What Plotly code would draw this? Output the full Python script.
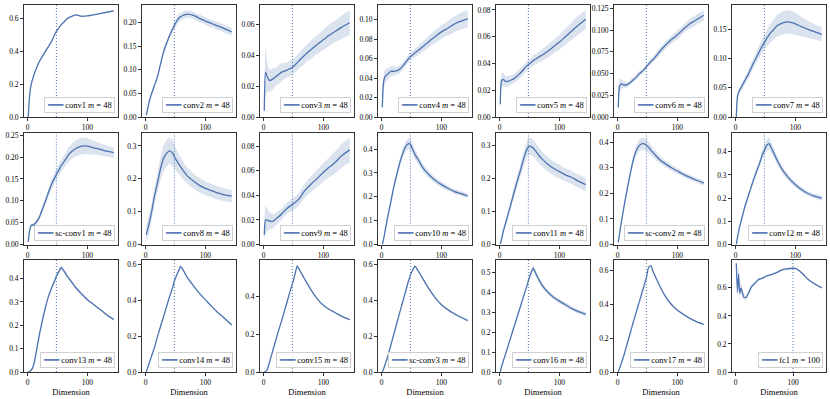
import plotly.graph_objects as go
from plotly.subplots import make_subplots

# dimensions sampled on the x axis
conv_dims = [1, 3, 6, 10, 15, 20, 25, 30, 35, 40, 45, 48, 52, 56, 58, 62, 66, 70, 80, 90, 100, 110, 120, 130, 144]
fc1_dims = [1, 3, 5, 7, 9, 11, 14, 18, 22, 28, 35, 40, 47, 54, 62, 72, 80, 87, 95, 100, 105, 110, 118, 125, 135, 150]

# mean and spread per layer
conv1_mean = [0.0, 0.12, 0.2, 0.25, 0.3, 0.34, 0.37, 0.4, 0.43, 0.46, 0.5, 0.52, 0.54, 0.56, 0.568, 0.582, 0.597, 0.605, 0.62, 0.612, 0.614, 0.62, 0.628, 0.635, 0.645]
conv1_std = [0.002, 0.01, 0.012, 0.01, 0.008, 0.006, 0.005, 0.004, 0.004, 0.003, 0.003, 0.003, 0.003, 0.003, 0.003, 0.003, 0.003, 0.003, 0.003, 0.003, 0.003, 0.003, 0.003, 0.003, 0.003]
conv2_mean = [0.004, 0.015, 0.033, 0.05, 0.068, 0.086, 0.113, 0.138, 0.156, 0.172, 0.186, 0.194, 0.203, 0.21, 0.212, 0.215, 0.217, 0.218, 0.215, 0.209, 0.203, 0.198, 0.193, 0.188, 0.18]
conv2_std = [0.001, 0.002, 0.003, 0.004, 0.005, 0.005, 0.005, 0.006, 0.006, 0.006, 0.007, 0.007, 0.008, 0.008, 0.008, 0.008, 0.008, 0.008, 0.008, 0.008, 0.008, 0.008, 0.008, 0.008, 0.008]
conv3_mean = [0.004, 0.029, 0.026, 0.0235, 0.0245, 0.026, 0.0275, 0.029, 0.0297, 0.0305, 0.0315, 0.032, 0.0335, 0.035, 0.0358, 0.0375, 0.039, 0.0405, 0.0438, 0.047, 0.05, 0.053, 0.0555, 0.058, 0.061]
conv3_std = [0.004, 0.016, 0.01, 0.007, 0.007, 0.006, 0.006, 0.006, 0.005, 0.005, 0.005, 0.005, 0.005, 0.005, 0.005, 0.005, 0.0055, 0.0055, 0.006, 0.006, 0.0065, 0.007, 0.007, 0.0075, 0.008]
conv4_mean = [0.01, 0.035, 0.042, 0.044, 0.047, 0.047, 0.0475, 0.049, 0.052, 0.056, 0.06, 0.062, 0.064, 0.066, 0.067, 0.069, 0.071, 0.073, 0.078, 0.083, 0.0875, 0.091, 0.095, 0.098, 0.101]
conv4_std = [0.003, 0.008, 0.007, 0.006, 0.005, 0.005, 0.004, 0.004, 0.004, 0.004, 0.004, 0.004, 0.004, 0.0045, 0.0045, 0.005, 0.005, 0.0055, 0.006, 0.0065, 0.007, 0.0075, 0.008, 0.0085, 0.009]
conv5_mean = [0.0095, 0.027, 0.028, 0.0265, 0.0268, 0.0278, 0.029, 0.031, 0.033, 0.0355, 0.038, 0.039, 0.0405, 0.042, 0.0427, 0.0437, 0.045, 0.046, 0.049, 0.0525, 0.056, 0.06, 0.064, 0.068, 0.073]
conv5_std = [0.003, 0.006, 0.005, 0.004, 0.004, 0.0035, 0.0035, 0.0035, 0.0035, 0.0035, 0.0035, 0.0035, 0.0035, 0.004, 0.004, 0.004, 0.004, 0.0045, 0.005, 0.005, 0.0055, 0.006, 0.0065, 0.007, 0.007]
conv6_mean = [0.011, 0.035, 0.038, 0.037, 0.037, 0.039, 0.042, 0.045, 0.049, 0.052, 0.055, 0.058, 0.061, 0.064, 0.0655, 0.068, 0.0715, 0.075, 0.0825, 0.089, 0.0945, 0.101, 0.107, 0.111, 0.117]
conv6_std = [0.004, 0.008, 0.006, 0.004, 0.003, 0.003, 0.003, 0.003, 0.003, 0.003, 0.003, 0.003, 0.003, 0.003, 0.0035, 0.0035, 0.004, 0.004, 0.004, 0.0045, 0.005, 0.005, 0.0055, 0.006, 0.006]
conv7_mean = [0.0, 0.035, 0.045, 0.052, 0.062, 0.071, 0.082, 0.093, 0.103, 0.113, 0.123, 0.128, 0.135, 0.141, 0.144, 0.148, 0.153, 0.157, 0.162, 0.163, 0.16, 0.155, 0.151, 0.147, 0.142]
conv7_std = [0.002, 0.006, 0.006, 0.006, 0.006, 0.007, 0.008, 0.009, 0.01, 0.011, 0.012, 0.013, 0.014, 0.016, 0.016, 0.017, 0.018, 0.019, 0.02, 0.02, 0.019, 0.017, 0.015, 0.013, 0.012]
scconv1_mean = [0.006, 0.03, 0.044, 0.045, 0.052, 0.064, 0.082, 0.1, 0.12, 0.138, 0.152, 0.16, 0.17, 0.18, 0.184, 0.192, 0.2, 0.208, 0.219, 0.225, 0.225, 0.221, 0.218, 0.214, 0.21]
scconv1_std = [0.003, 0.004, 0.004, 0.004, 0.005, 0.006, 0.008, 0.009, 0.01, 0.011, 0.012, 0.012, 0.013, 0.014, 0.014, 0.015, 0.016, 0.017, 0.018, 0.019, 0.018, 0.016, 0.014, 0.013, 0.012]
conv8_mean = [0.03, 0.045, 0.065, 0.1, 0.15, 0.19, 0.232, 0.262, 0.277, 0.285, 0.278, 0.267, 0.255, 0.243, 0.238, 0.227, 0.217, 0.208, 0.193, 0.18, 0.171, 0.164, 0.157, 0.152, 0.147]
conv8_std = [0.02, 0.03, 0.03, 0.025, 0.025, 0.03, 0.035, 0.04, 0.04, 0.04, 0.04, 0.035, 0.033, 0.03, 0.029, 0.028, 0.026, 0.025, 0.023, 0.022, 0.021, 0.02, 0.02, 0.02, 0.019]
conv9_mean = [0.008, 0.02, 0.0198, 0.019, 0.0188, 0.0205, 0.0225, 0.0248, 0.0275, 0.0298, 0.0315, 0.0326, 0.034, 0.0355, 0.0365, 0.039, 0.042, 0.0445, 0.0495, 0.054, 0.0588, 0.063, 0.067, 0.072, 0.077]
conv9_std = [0.004, 0.012, 0.009, 0.007, 0.006, 0.005, 0.005, 0.0045, 0.0045, 0.0045, 0.0045, 0.005, 0.005, 0.005, 0.005, 0.0055, 0.0055, 0.006, 0.0065, 0.007, 0.0075, 0.008, 0.009, 0.0095, 0.01]
conv10_mean = [0.0, 0.02, 0.06, 0.115, 0.175, 0.238, 0.29, 0.34, 0.38, 0.41, 0.423, 0.42, 0.398, 0.376, 0.367, 0.352, 0.334, 0.318, 0.29, 0.268, 0.251, 0.237, 0.224, 0.215, 0.204]
conv10_std = [0.003, 0.008, 0.01, 0.012, 0.014, 0.015, 0.016, 0.018, 0.02, 0.022, 0.024, 0.024, 0.022, 0.02, 0.02, 0.018, 0.017, 0.016, 0.014, 0.013, 0.012, 0.011, 0.01, 0.01, 0.01]
conv11_mean = [0.002, 0.015, 0.04, 0.065, 0.097, 0.13, 0.163, 0.195, 0.225, 0.258, 0.285, 0.295, 0.296, 0.291, 0.287, 0.278, 0.268, 0.26, 0.243, 0.23, 0.22, 0.21, 0.203, 0.193, 0.181]
conv11_std = [0.002, 0.005, 0.008, 0.01, 0.012, 0.014, 0.016, 0.018, 0.02, 0.022, 0.024, 0.025, 0.026, 0.026, 0.026, 0.025, 0.024, 0.023, 0.022, 0.021, 0.021, 0.02, 0.02, 0.02, 0.02]
scconv2_mean = [0.008, 0.04, 0.085, 0.14, 0.205, 0.265, 0.32, 0.36, 0.383, 0.393, 0.393, 0.388, 0.379, 0.367, 0.362, 0.352, 0.342, 0.332, 0.315, 0.3, 0.287, 0.274, 0.263, 0.253, 0.24]
scconv2_std = [0.003, 0.006, 0.008, 0.01, 0.012, 0.014, 0.017, 0.02, 0.022, 0.024, 0.024, 0.023, 0.021, 0.019, 0.018, 0.017, 0.016, 0.015, 0.013, 0.012, 0.011, 0.01, 0.01, 0.01, 0.01]
conv12_mean = [0.0, 0.03, 0.07, 0.11, 0.16, 0.2, 0.24, 0.28, 0.316, 0.35, 0.39, 0.405, 0.428, 0.435, 0.425, 0.405, 0.382, 0.36, 0.315, 0.283, 0.258, 0.237, 0.221, 0.21, 0.2]
conv12_std = [0.002, 0.005, 0.007, 0.008, 0.01, 0.011, 0.012, 0.013, 0.015, 0.017, 0.02, 0.022, 0.025, 0.025, 0.024, 0.021, 0.019, 0.018, 0.015, 0.013, 0.012, 0.011, 0.01, 0.01, 0.01]
conv13_mean = [0.0, 0.003, 0.008, 0.03, 0.096, 0.165, 0.225, 0.28, 0.325, 0.36, 0.39, 0.41, 0.43, 0.447, 0.442, 0.428, 0.411, 0.398, 0.363, 0.335, 0.31, 0.29, 0.27, 0.25, 0.225]
conv13_std = [0.001, 0.002, 0.003, 0.004, 0.005, 0.005, 0.005, 0.006, 0.006, 0.007, 0.008, 0.009, 0.01, 0.01, 0.01, 0.009, 0.008, 0.007, 0.006, 0.005, 0.005, 0.004, 0.004, 0.004, 0.004]
conv14_mean = [0.0, 0.02, 0.05, 0.09, 0.14, 0.2, 0.255, 0.31, 0.365, 0.42, 0.47, 0.505, 0.54, 0.57, 0.588, 0.572, 0.548, 0.524, 0.48, 0.438, 0.402, 0.367, 0.333, 0.305, 0.262]
conv14_std = [0.001, 0.002, 0.003, 0.004, 0.004, 0.004, 0.004, 0.004, 0.005, 0.005, 0.005, 0.006, 0.006, 0.006, 0.006, 0.006, 0.005, 0.005, 0.005, 0.004, 0.004, 0.004, 0.004, 0.004, 0.004]
conv15_mean = [0.0, 0.002, 0.012, 0.055, 0.11, 0.165, 0.22, 0.27, 0.325, 0.38, 0.435, 0.465, 0.51, 0.56, 0.55, 0.528, 0.505, 0.482, 0.43, 0.385, 0.352, 0.33, 0.313, 0.295, 0.276]
conv15_std = [0.001, 0.002, 0.002, 0.003, 0.003, 0.003, 0.003, 0.003, 0.003, 0.003, 0.003, 0.003, 0.003, 0.003, 0.003, 0.003, 0.003, 0.003, 0.003, 0.003, 0.003, 0.003, 0.003, 0.003, 0.003]
scconv3_mean = [0.0, 0.015, 0.045, 0.085, 0.146, 0.207, 0.268, 0.33, 0.39, 0.45, 0.51, 0.54, 0.57, 0.592, 0.582, 0.56, 0.538, 0.515, 0.46, 0.413, 0.376, 0.35, 0.328, 0.31, 0.287]
scconv3_std = [0.001, 0.002, 0.003, 0.003, 0.004, 0.004, 0.004, 0.004, 0.004, 0.004, 0.004, 0.004, 0.004, 0.004, 0.004, 0.004, 0.004, 0.004, 0.005, 0.005, 0.005, 0.005, 0.006, 0.006, 0.006]
conv16_mean = [0.0, 0.025, 0.055, 0.092, 0.14, 0.188, 0.236, 0.284, 0.332, 0.38, 0.428, 0.458, 0.495, 0.522, 0.512, 0.485, 0.462, 0.44, 0.403, 0.376, 0.356, 0.338, 0.32, 0.306, 0.29]
conv16_std = [0.002, 0.003, 0.004, 0.005, 0.006, 0.007, 0.007, 0.008, 0.008, 0.009, 0.01, 0.01, 0.012, 0.014, 0.014, 0.013, 0.012, 0.012, 0.011, 0.011, 0.011, 0.011, 0.011, 0.011, 0.011]
conv17_mean = [0.0, 0.02, 0.05, 0.093, 0.155, 0.217, 0.28, 0.34, 0.4, 0.46, 0.52, 0.555, 0.62, 0.625, 0.605, 0.57, 0.54, 0.51, 0.445, 0.398, 0.364, 0.34, 0.318, 0.3, 0.28]
conv17_std = [0.001, 0.002, 0.002, 0.003, 0.003, 0.003, 0.003, 0.003, 0.003, 0.003, 0.003, 0.003, 0.004, 0.004, 0.004, 0.004, 0.004, 0.004, 0.004, 0.004, 0.004, 0.004, 0.004, 0.004, 0.004]
fc1_mean = [0.775, 0.57, 0.7, 0.56, 0.6, 0.58, 0.535, 0.53, 0.56, 0.61, 0.64, 0.66, 0.67, 0.685, 0.695, 0.71, 0.728, 0.734, 0.738, 0.74, 0.738, 0.725, 0.695, 0.665, 0.635, 0.6]
fc1_std = [0.01, 0.04, 0.05, 0.05, 0.04, 0.03, 0.02, 0.015, 0.012, 0.01, 0.008, 0.008, 0.006, 0.006, 0.006, 0.006, 0.006, 0.006, 0.006, 0.006, 0.006, 0.006, 0.006, 0.006, 0.006, 0.006]

layer_names = ["conv1", "conv2", "conv3", "conv4", "conv5", "conv6", "conv7",
               "sc-conv1", "conv8", "conv9", "conv10", "conv11", "sc-conv2", "conv12",
               "conv13", "conv14", "conv15", "sc-conv3", "conv16", "conv17", "fc1"]
layer_m = [48] * 20 + [100]
layer_means = [conv1_mean, conv2_mean, conv3_mean, conv4_mean, conv5_mean, conv6_mean, conv7_mean,
               scconv1_mean, conv8_mean, conv9_mean, conv10_mean, conv11_mean, scconv2_mean, conv12_mean,
               conv13_mean, conv14_mean, conv15_mean, scconv3_mean, conv16_mean, conv17_mean, fc1_mean]
layer_stds = [conv1_std, conv2_std, conv3_std, conv4_std, conv5_std, conv6_std, conv7_std,
              scconv1_std, conv8_std, conv9_std, conv10_std, conv11_std, scconv2_std, conv12_std,
              conv13_std, conv14_std, conv15_std, scconv3_std, conv16_std, conv17_std, fc1_std]

# y tick step and label format per panel
y_dticks = [0.2, 0.05, 0.02, 0.02, 0.02, 0.025, 0.05,
            0.05, 0.1, 0.02, 0.1, 0.1, 0.1, 0.1,
            0.1, 0.2, 0.2, 0.2, 0.1, 0.2, 0.2]
y_formats = [".1f", ".2f", ".2f", ".2f", ".2f", ".3f", ".2f",
             ".2f", ".1f", ".2f", ".1f", ".1f", ".1f", ".1f",
             ".1f", ".1f", ".1f", ".1f", ".1f", ".1f", ".1f"]

BLUE = "#4C72B0"
BAND = "rgba(76,114,176,0.2)"
FONT = "Liberation Serif"

fig = make_subplots(rows=3, cols=7, horizontal_spacing=24 / 802, vertical_spacing=15.5 / 367)

for i, name in enumerate(layer_names):
    r, c = i // 7 + 1, i % 7 + 1
    xs = fc1_dims if name == "fc1" else conv_dims
    mean, std = layer_means[i], layer_stds[i]
    lower = [m - s for m, s in zip(mean, std)]
    upper = [m + s for m, s in zip(mean, std)]

    fig.add_trace(go.Scatter(x=xs, y=lower, mode="lines", line=dict(width=0, shape="spline", smoothing=0.5),
                             showlegend=False, hoverinfo="skip"), row=r, col=c)
    fig.add_trace(go.Scatter(x=xs, y=upper, mode="lines", line=dict(width=0, shape="spline", smoothing=0.5),
                             fill="tonexty", fillcolor=BAND, showlegend=False, hoverinfo="skip"), row=r, col=c)
    fig.add_trace(go.Scatter(x=xs, y=mean, mode="lines",
                             line=dict(color=BLUE, width=1.3, shape="spline", smoothing=0.5),
                             name=name, showlegend=False), row=r, col=c)
    fig.add_vline(x=layer_m[i], line=dict(color=BLUE, dash="1px,2px", width=1), row=r, col=c)

    # matplotlib-like autoscale: 5% margins, y bottom pinned at 0
    span = xs[-1] - xs[0]
    top = max(upper) + 0.05 * (max(upper) - min(lower))
    fig.update_xaxes(range=[xs[0] - 0.05 * span, xs[-1] + 0.05 * span], dtick=100, tick0=0,
                     row=r, col=c)
    fig.update_yaxes(range=[0, top], dtick=y_dticks[i], tick0=0, tickformat=y_formats[i],
                     row=r, col=c)
    if r == 3:
        fig.update_xaxes(title=dict(text="Dimension", standoff=3, font=dict(size=8.5, color="black")),
                         row=r, col=c)

    xref = "x domain" if i == 0 else f"x{i + 1} domain"
    yref = "y domain" if i == 0 else f"y{i + 1} domain"
    fig.add_annotation(xref=xref, yref=yref, x=0.97, y=0.035, xanchor="right", yanchor="bottom",
                       text=f"<span style='color:{BLUE}'>━━━</span> {name} <i>m</i> = {layer_m[i]}",
                       showarrow=False, font=dict(size=8.5, family=FONT, color="black"),
                       bgcolor="rgba(255,255,255,0.8)", bordercolor="#d0d0d0", borderwidth=1, borderpad=2)

fig.update_xaxes(showline=True, mirror=True, linecolor="#333", linewidth=1, ticks="outside",
                 ticklen=3, tickcolor="#333", showgrid=False, zeroline=False, automargin=False,
                 tickfont=dict(size=7.5, family=FONT, color="black"))
fig.update_yaxes(showline=True, mirror=True, linecolor="#333", linewidth=1, ticks="outside",
                 ticklen=3, tickcolor="#333", showgrid=False, zeroline=False, automargin=False,
                 tickfont=dict(size=7.5, family=FONT, color="black"))

fig.update_layout(width=830, height=399, margin=dict(l=24, r=4, t=5, b=27),
                  paper_bgcolor="white", plot_bgcolor="white",
                  font=dict(family=FONT, size=8, color="black"), showlegend=False)

# the page body has a default 8px margin; drop it so the figure fills the window
fig.write_html("out.html", config={"displayModeBar": False},
               post_script="document.body.style.margin='0';")
